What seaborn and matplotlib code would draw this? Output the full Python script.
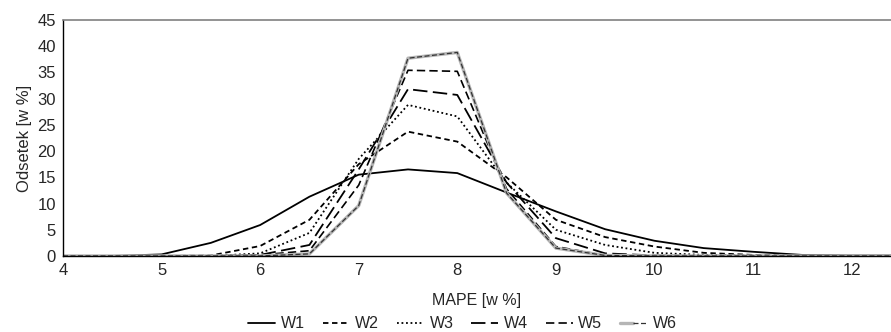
import pandas as pd
import seaborn as sns
import matplotlib
matplotlib.use("Agg")
import matplotlib.pyplot as plt
from matplotlib.legend_handler import HandlerTuple

# MAPE bins [w %]
mape = [4, 4.5, 5, 5.5, 6, 6.5, 7, 7.5, 8, 8.5, 9, 9.5, 10, 10.5, 11, 11.5, 12, 12.5]

w1 = [0, 0, 0.3, 2.5, 5.9, 11.3, 15.5, 16.5, 15.8, 12.1, 8.5, 5.1, 2.9, 1.5, 0.8, 0.2, 0.1, 0.1]
w2 = [0, 0, 0, 0.1, 1.9, 6.9, 17.5, 23.7, 21.8, 15.0, 6.9, 3.6, 1.8, 0.6, 0.2, 0.1, 0, 0]
w3 = [0, 0, 0, 0, 0.5, 4.4, 18.5, 28.8, 26.6, 14.0, 5.0, 2.1, 0.6, 0.2, 0.1, 0, 0, 0]
w4 = [0, 0, 0, 0, 0.2, 2.1, 16.5, 31.8, 30.7, 14.0, 3.4, 0.5, 0.1, 0, 0, 0, 0, 0]
w5 = [0, 0, 0, 0, 0.2, 1.0, 13.5, 35.4, 35.2, 12.8, 1.8, 0.1, 0, 0, 0, 0, 0, 0]
w6 = [0, 0, 0, 0, 0, 0.4, 9.6, 37.7, 38.8, 12.0, 1.5, 0.1, 0, 0, 0, 0, 0, 0]

labels = ["W1", "W2", "W3", "W4", "W5", "W6"]
series = [w1, w2, w3, w4, w5, w6]

sns.set_style("white")
plt.rcParams["font.family"] = ["Liberation Sans", "DejaVu Sans"]

fig = plt.figure(figsize=(8.91, 3.32), dpi=100)
ax = fig.add_axes([0.0707, 0.229, 0.9293, 0.711])

styles = {
    "W1": dict(color="black", linestyle="-", linewidth=1.3),
    "W2": dict(color="black", linestyle=(0, (3, 2)), linewidth=1.3),
    "W3": dict(color="black", linestyle=(0, (1, 1.5)), linewidth=1.3),
    "W4": dict(color="black", linestyle=(0, (8, 3)), linewidth=1.3),
    "W5": dict(color="black", linestyle=(0, (5, 2.5)), linewidth=1.2),
}

handles = []
for name, vals in zip(labels[:5], series[:5]):
    sns.lineplot(x=mape, y=vals, ax=ax, **styles[name])
    handles.append(ax.lines[-1])

# W6: grey band with a dark dashed core
sns.lineplot(x=mape, y=w6, ax=ax, color="#b5b5b5", linewidth=2.4)
grey = ax.lines[-1]
sns.lineplot(x=mape, y=w6, ax=ax, color="#333333", linewidth=0.9, linestyle=(0, (4, 2)))
core = ax.lines[-1]
handles.append((grey, core))

ax.set_xlim(4, 12.4)
ax.set_ylim(0, 45)
ax.set_xticks(range(4, 13))
ax.set_yticks(range(0, 46, 5))
ax.tick_params(length=0, labelsize=12, pad=5)
ax.set_xlabel("MAPE [w %]", fontsize=11.5, labelpad=11)
ax.set_ylabel("Odsetek [w %]", fontsize=12, labelpad=4)

for side in ["left", "bottom"]:
    ax.spines[side].set_color("black")
    ax.spines[side].set_linewidth(1.0)
ax.spines["top"].set_color("#808080")
ax.spines["top"].set_linewidth(1.2)
ax.spines["right"].set_visible(False)

fig.legend(handles, labels, loc="center", bbox_to_anchor=(0.519, 0.025), ncol=6,
           frameon=False, fontsize=11.5, handlelength=1.7, handletextpad=0.35,
           columnspacing=1.1, handler_map={tuple: HandlerTuple(ndivide=None, pad=0)})

fig.savefig("out.png", dpi=100)
